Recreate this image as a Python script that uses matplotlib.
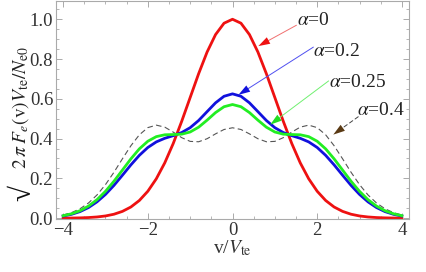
import numpy as np
from matplotlib import pyplot as plt
from matplotlib.ticker import MultipleLocator

plt.rcParams['font.family'] = ['Liberation Serif', 'DejaVu Serif']
plt.rcParams['mathtext.fontset'] = 'stix'

# velocity grid (v/Vte), right half; the curves are symmetric in v
v_half = [0.0, 0.2, 0.4, 0.6, 0.8, 1.0, 1.2, 1.4, 1.6, 1.8, 2.0,
          2.2, 2.4, 2.6, 2.8, 3.0, 3.2, 3.4, 3.6, 3.8, 4.0]

f_a0 = [1.0, 0.9802, 0.9231, 0.8353, 0.7262, 0.6065, 0.4868, 0.3753, 0.2780, 0.1979, 0.1353,
        0.0889, 0.0561, 0.0341, 0.0198, 0.0111, 0.0060, 0.0031, 0.0015, 0.0007, 0.0003]
f_a02 = [0.6250, 0.6128, 0.5799, 0.5356, 0.4910, 0.4549, 0.4304, 0.4148, 0.4015, 0.3834, 0.3553,
         0.3159, 0.2679, 0.2158, 0.1648, 0.1194, 0.0821, 0.0535, 0.0331, 0.0195, 0.0109]
f_a025 = [0.5714, 0.5603, 0.5309, 0.4928, 0.4574, 0.4332, 0.4223, 0.4204, 0.4192, 0.4099, 0.3867,
          0.3484, 0.2981, 0.2417, 0.1855, 0.1349, 0.0930, 0.0608, 0.0376, 0.0222, 0.0124]
f_a04 = [0.4545, 0.4458, 0.4239, 0.3994, 0.3841, 0.3860, 0.4048, 0.4327, 0.4577, 0.4677, 0.4552,
         0.4191, 0.3641, 0.2984, 0.2307, 0.1687, 0.1167, 0.0765, 0.0474, 0.0280, 0.0157]


def mirror(x, sign=1):
    x = np.array(x)
    return np.concatenate([sign * x[:0:-1], x])


v = mirror(v_half, -1)

fig = plt.figure(figsize=(4.27, 2.72), dpi=100)
ax = fig.add_axes([0.131, 0.195, 0.827, 0.80])

ax.plot(v, mirror(f_a04), color='#555555', lw=0.8, ls=(0, (5, 3)))
ax.plot(v, mirror(f_a0), color='#ee1111', lw=2.0)
ax.plot(v, mirror(f_a02), color='#1111dd', lw=2.0)
ax.plot(v, mirror(f_a025), color='#22ee22', lw=2.0)

ax.set_xlim(-4.17, 4.17)
ax.set_ylim(-0.004, 1.09)
ax.xaxis.set_minor_locator(MultipleLocator(0.5))
ax.yaxis.set_minor_locator(MultipleLocator(0.05))
ax.set_yticks([0.0, 0.2, 0.4, 0.6, 0.8, 1.0])
ax.set_yticklabels(['0.0', '0.2', '0.4', '0.6', '0.8', '1.0'])
ax.set_xticks([-4, -2, 0, 2, 4])
ax.set_xticklabels(['\u22124', '\u22122', '0', '2', '4'])

for s in ax.spines.values():
    s.set_color('#aaaaaa')
    s.set_linewidth(0.8)
ax.tick_params(which='both', direction='in', top=True, right=True, color='#aaaaaa',
               labelsize=13.5, labelcolor='#333333', pad=2)
ax.tick_params(which='major', length=4, width=0.7)
ax.tick_params(which='minor', length=2, width=0.6)

ax.set_xlabel(r'v/$V_{\rm te}$', fontsize=14, color='#333333', labelpad=0)

# y label: big radical sign then the rest, stacked as rotated text
fig.text(0.054, 0.262, '\u221a', fontsize=21, rotation=90, ha='center', va='bottom',
         color='#111111', fontweight='bold')
fig.text(0.048, 0.38, r'$2\,\pi\;F_e(\mathrm{v})V_{\rm te}/N_{\rm e0}$', fontsize=14,
         rotation=90, ha='center', va='bottom', color='#222222')

labels = [r'$\alpha$=0', r'$\alpha$=0.2', r'$\alpha$=0.25', r'$\alpha$=0.4']
text_pos = [(1.53, 0.995), (1.91, 0.84), (2.27, 0.683), (2.95, 0.54)]
tips = [(0.61, 0.865), (0.14, 0.62), (0.89, 0.47), (2.38, 0.42)]
tails = [(1.51, 0.97), (1.91, 0.86), (2.27, 0.69), (2.97, 0.51)]
line_cols = ['#f07070', '#5050f0', '#70f070', '#444444']
head_cols = ['#ee1111', '#1111dd', '#22dd22', '#5a3a14']
styles = ['-', '-', '-', (0, (4, 3))]

for lab, tp, tip, tail, lc, hc, st in zip(labels, text_pos, tips, tails, line_cols, head_cols, styles):
    ax.text(tp[0], tp[1], lab, fontsize=14, ha='left', va='center', color='#222222')
    ax.annotate('', xy=tip, xytext=tail,
                arrowprops=dict(arrowstyle='-', color=lc, lw=0.7, ls=st, shrinkA=0, shrinkB=5))
    ax.annotate('', xy=tip, xytext=tail,
                arrowprops=dict(arrowstyle='-|>,head_length=0.7,head_width=0.22', color=hc, lw=0,
                                mutation_scale=12, shrinkA=0, shrinkB=0))

fig.savefig('out.png', dpi=100)
